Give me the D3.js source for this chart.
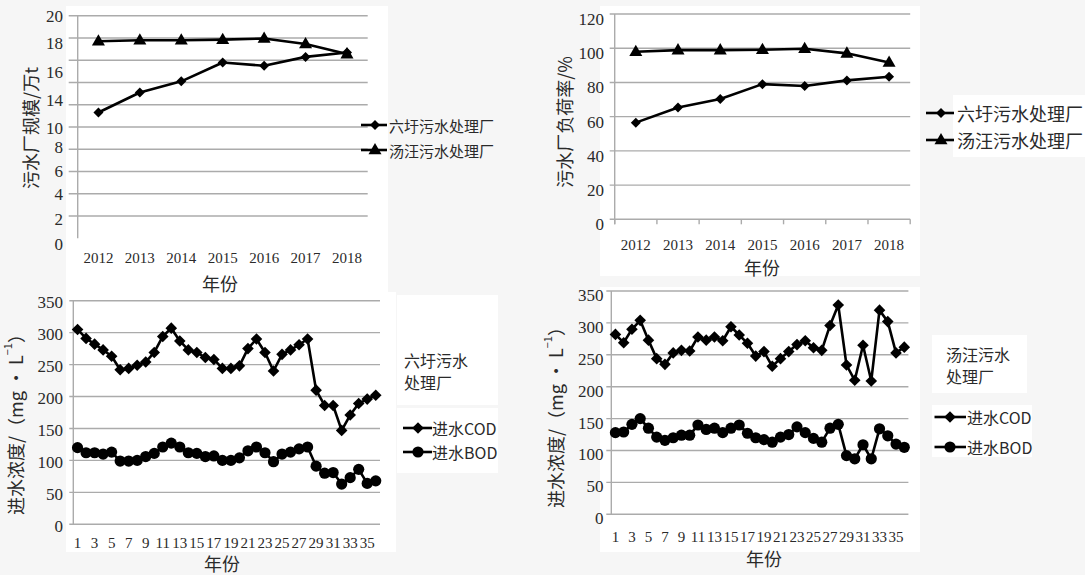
<!DOCTYPE html>
<html>
<head>
<meta charset="utf-8">
<script src="https://cdn.jsdelivr.net/npm/d3@7"></script>
<style>
  body { margin: 0; background: #f6f6f6; }
  svg { display: block; }
  text { font-family: "Liberation Serif", "Noto Sans CJK SC", serif; fill: #2a2a2a; }
  .cjk { font-family: "Noto Sans CJK SC", "Liberation Serif", sans-serif; }
</style>
</head>
<body>
<svg id="chart" width="1085" height="575"></svg>
<script>
// ---- Annual figures, 2012-2018 ----
const years = ["2012", "2013", "2014", "2015", "2016", "2017", "2018"];
const capacityLiuxu    = [11.3, 13.1, 14.1, 15.8, 15.5, 16.3, 16.7];
const capacityTangwang = [17.7, 17.8, 17.8, 17.85, 17.95, 17.45, 16.55];
// tick labels of the capacity axis and the axis values they sit at
const capacityTickLabels    = ["20", "18", "16", "14", "10", "8", "6", "4", "2", "0"];
const capacityTickPositions = [20.0, 17.5, 14.95, 12.4, 9.9, 8.2, 6.0, 3.95, 1.75, -0.5];
const loadLiuxu    = [56.5, 65.4, 70.3, 79.0, 77.9, 81.2, 83.3];
const loadTangwang = [97.9, 98.9, 98.9, 99.1, 99.7, 97.0, 91.7];

// ---- Monthly influent concentrations (mg/L) ----
const months = [1, 2, 3, 4, 5, 6, 7, 8, 9, 10, 11, 12, 13, 14, 15, 16, 17, 18,
                19, 20, 21, 22, 23, 24, 25, 26, 27, 28, 29, 30, 31, 32, 33, 34, 35, 36];
const monthTicks = [1, 3, 5, 7, 9, 11, 13, 15, 17, 19, 21, 23, 25, 27, 29, 31, 33, 35];
const codLiuxu = [305, 291, 282, 273, 263, 242, 244, 249, 254, 269, 294, 307,
                  287, 273, 269, 261, 258, 244, 244, 248, 275, 290, 269, 240,
                  266, 273, 281, 290, 210, 186, 186, 147, 171, 189, 196, 202];
const bodLiuxu = [120, 112, 112, 110, 113, 99, 99, 100, 106, 111, 121, 127,
                  121, 112, 111, 106, 107, 100, 100, 104, 115, 121, 112, 98,
                  110, 113, 118, 121, 91, 80, 81, 63, 73, 86, 64, 68];
const codTangwang = [282, 269, 290, 304, 273, 244, 235, 253, 257, 256, 278, 273,
                     278, 272, 294, 281, 268, 248, 255, 232, 244, 255, 266, 272,
                     261, 257, 296, 328, 234, 210, 265, 209, 320, 302, 253, 262];
const bodTangwang = [128, 129, 141, 150, 135, 121, 116, 120, 124, 124, 140, 133,
                     135, 128, 135, 140, 127, 120, 117, 113, 121, 125, 137, 128,
                     119, 113, 135, 141, 92, 87, 109, 87, 134, 123, 110, 105];

const svg = d3.select("#chart");
const GRID = "#ababab";

// soft white backing panels
const panels = [
  [66, 6, 322, 286], [600, 6, 320, 270], [953, 95, 132, 62],
  [66, 292, 330, 260], [397, 295, 101, 110], [397, 408, 101, 65],
  [600, 287, 320, 265], [932, 335, 95, 58], [932, 405, 100, 52]
];
svg.selectAll("rect.bg").data(panels).join("rect").attr("class", "bg")
  .attr("x", d => d[0]).attr("y", d => d[1]).attr("width", d => d[2]).attr("height", d => d[3])
  .attr("fill", "#ffffff");

// marker shapes
const diamondPath = r => `M0,${-r}L${r},0L0,${r}L${-r},0Z`;
const trianglePath = s => {
  const h = s * Math.sqrt(3) / 2;
  return `M0,${-h * 0.62}L${s / 2},${h * 0.38}L${-s / 2},${h * 0.38}Z`;
};
function drawMarker(g, kind, x, y) {
  if (kind === "diamond") g.append("path").attr("d", diamondPath(5)).attr("transform", `translate(${x},${y})`).attr("fill", "#000");
  else if (kind === "diamondL") g.append("path").attr("d", diamondPath(5.8)).attr("transform", `translate(${x},${y})`).attr("fill", "#000");
  else if (kind === "triangle") g.append("path").attr("d", trianglePath(13)).attr("transform", `translate(${x},${y})`).attr("fill", "#000");
  else g.append("circle").attr("cx", x).attr("cy", y).attr("r", 5.6).attr("fill", "#000");
}

function drawChart(cfg) {
  const g = svg.append("g");
  const x = d3.scaleBand().domain(cfg.categories).range([cfg.x0, cfg.x1]);
  const y = d3.scaleLinear().domain([0, cfg.max]).range([cfg.yBottom, cfg.yTop]);
  const cx = c => x(c) + x.bandwidth() / 2;

  // horizontal gridlines
  g.selectAll("line.grid").data(cfg.grid).join("line")
    .attr("x1", cfg.x0 - cfg.gridLeft).attr("x2", cfg.x1)
    .attr("y1", d => y(d)).attr("y2", d => y(d))
    .attr("stroke", GRID).attr("stroke-width", 1.4);
  // vertical axis line
  g.append("line").attr("x1", cfg.x0).attr("x2", cfg.x0)
    .attr("y1", y(cfg.max)).attr("y2", y(0) + (cfg.axisExtra || 0))
    .attr("stroke", GRID).attr("stroke-width", 1.4);

  // category tick marks under the baseline
  if (cfg.bandTicks) {
    const edges = cfg.categories.map(c => x(c)).concat([cfg.x1]);
    g.selectAll("line.bt").data(edges).join("line")
      .attr("x1", d => d).attr("x2", d => d)
      .attr("y1", y(0)).attr("y2", y(0) + 5)
      .attr("stroke", GRID).attr("stroke-width", 1.4);
  }

  // y tick labels
  const yAxis = d3.axisLeft(y).tickValues(cfg.yTickValues)
    .tickFormat((d, i) => cfg.yTickText ? cfg.yTickText[i] : d)
    .tickSize(0).tickPadding(0);
  const ya = g.append("g").attr("transform", `translate(${cfg.yLabelX},${cfg.yLabelDy})`).call(yAxis)
    .attr("font-family", "Liberation Serif");
  ya.select(".domain").remove();
  ya.selectAll("text").attr("font-size", 17).attr("fill", "#2a2a2a")
    .style("font-family", '"Liberation Serif", serif');

  // x tick labels
  const xAxis = d3.axisBottom(x).tickValues(cfg.xTickValues).tickSize(0).tickPadding(0);
  const xa = g.append("g").attr("transform", `translate(0,${cfg.xLabelY})`).call(xAxis)
    .attr("font-family", "Liberation Serif");
  xa.select(".domain").remove();
  xa.selectAll("text").attr("font-size", 15).attr("fill", "#2a2a2a").attr("dy", "0.35em")
    .style("font-family", '"Liberation Serif", serif');

  // axis titles
  g.append("text").attr("class", "cjk").attr("x", cfg.xTitle[0]).attr("y", cfg.xTitle[1])
    .attr("text-anchor", "middle").attr("dominant-baseline", "central").attr("font-size", 18)
    .text("年份");
  const yt = g.append("text").attr("class", "cjk")
    .attr("transform", `translate(${cfg.yTitle[0]},${cfg.yTitle[1]}) rotate(-90)`)
    .attr("text-anchor", "middle").attr("dominant-baseline", "central").attr("font-size", 18);
  cfg.yTitleParts.forEach(p => {
    const t = yt.append("tspan").text(p.t);
    if (p.sup) t.attr("baseline-shift", "super").attr("font-size", 11);
  });

  // series
  const line = d3.line().x(d => cx(d.c)).y(d => y(d.v));
  cfg.series.forEach(s => {
    const pts = cfg.categories.map((c, i) => ({ c, v: s.values[i] }));
    g.append("path").datum(pts).attr("d", line)
      .attr("fill", "none").attr("stroke", "#000").attr("stroke-width", 2.6)
      .attr("stroke-linejoin", "round");
    pts.forEach(p => drawMarker(g, s.marker, cx(p.c), y(p.v)));
  });

  // legend (optional two-line heading, then one row per series)
  const L = cfg.legend;
  if (L.title) {
    const head = g.append("text").attr("class", "cjk")
      .attr("x", L.titleX).attr("y", L.titleY).attr("dominant-baseline", "central")
      .attr("font-size", L.titleSize);
    L.title.forEach((t, i) => head.append("tspan")
      .attr("x", L.titleX).attr("dy", i === 0 ? 0 : L.titleGap).text(t));
  }
  cfg.series.forEach((s, i) => {
    const ly = L.y[i];
    g.append("line").attr("x1", L.x0).attr("x2", L.x1).attr("y1", ly).attr("y2", ly)
      .attr("stroke", "#000").attr("stroke-width", 2.6);
    drawMarker(g, s.marker, L.mx, ly);
    g.append("text").attr("class", "cjk").attr("x", L.tx).attr("y", ly)
      .attr("dominant-baseline", "central").attr("font-size", L.size).text(s.name);
  });
}

// Plant capacity (10^4 t)
drawChart({
  categories: years, max: 20, x0: 77.7, x1: 367.7, yTop: 15.7, yBottom: 238.3,
  grid: [2, 4, 6, 8, 10, 12, 14, 16, 18, 20], gridLeft: 9,
  yTickValues: capacityTickPositions, yTickText: capacityTickLabels, yLabelX: 63, yLabelDy: 0,
  xTickValues: years, xLabelY: 258, xTitle: [220, 283],
  yTitle: [30, 128], yTitleParts: [{ t: "污水厂规模/万t" }],
  series: [
    { name: "六圩污水处理厂", values: capacityLiuxu, marker: "diamond" },
    { name: "汤汪污水处理厂", values: capacityTangwang, marker: "triangle" }
  ],
  legend: { x0: 361, x1: 387, mx: 375, tx: 389, y: [125, 150], size: 15 }
});

// Plant load rate (%)
drawChart({
  categories: years, max: 120, x0: 614.7, x1: 910.2, yTop: 14, yBottom: 219.3,
  grid: [0, 20, 40, 60, 80, 100, 120], gridLeft: 5, bandTicks: true, axisExtra: 5,
  yTickValues: [0, 20, 40, 60, 80, 100, 120], yLabelX: 604, yLabelDy: 5,
  xTickValues: years, xLabelY: 245, xTitle: [762, 267],
  yTitle: [564, 122], yTitleParts: [{ t: "污水厂负荷率/%" }],
  series: [
    { name: "六圩污水处理厂", values: loadLiuxu, marker: "diamond" },
    { name: "汤汪污水处理厂", values: loadTangwang, marker: "triangle" }
  ],
  legend: { x0: 926, x1: 954, mx: 941, tx: 957, y: [113, 140], size: 18 }
});

// Liuxu plant monthly influent
drawChart({
  categories: months, max: 350, x0: 73.3, x1: 380, yTop: 300.7, yBottom: 524.3,
  grid: [0, 50, 100, 150, 200, 250, 300, 350], gridLeft: 4,
  yTickValues: [0, 50, 100, 150, 200, 250, 300, 350], yLabelX: 63, yLabelDy: 1.5,
  xTickValues: monthTicks, xLabelY: 543, xTitle: [222, 563],
  yTitle: [15, 420], yTitleParts: [{ t: "进水浓度/（mg • L" }, { t: "−1", sup: true }, { t: "）" }],
  series: [
    { name: "进水COD", values: codLiuxu, marker: "diamondL" },
    { name: "进水BOD", values: bodLiuxu, marker: "circle" }
  ],
  legend: { title: ["六圩污水", "处理厂"], titleX: 404, titleY: 360, titleGap: 22, titleSize: 16,
            x0: 403, x1: 432, mx: 418, tx: 432, y: [428, 452], size: 16 }
});

// Tangwang plant monthly influent
drawChart({
  categories: months, max: 350, x0: 611.3, x1: 908.4, yTop: 291, yBottom: 514.3,
  grid: [0, 50, 100, 150, 200, 250, 300, 350], gridLeft: 5,
  yTickValues: [0, 50, 100, 150, 200, 250, 300, 350], yLabelX: 603.6, yLabelDy: 4,
  xTickValues: monthTicks, xLabelY: 537, xTitle: [764, 558],
  yTitle: [555, 413], yTitleParts: [{ t: "进水浓度/（mg • L" }, { t: "−1", sup: true }, { t: "）" }],
  series: [
    { name: "进水COD", values: codTangwang, marker: "diamondL" },
    { name: "进水BOD", values: bodTangwang, marker: "circle" }
  ],
  legend: { title: ["汤汪污水", "处理厂"], titleX: 946, titleY: 354, titleGap: 22, titleSize: 16,
            x0: 934.5, x1: 966, mx: 950, tx: 967, y: [417, 447], size: 16 }
});
</script>
</body>
</html>
